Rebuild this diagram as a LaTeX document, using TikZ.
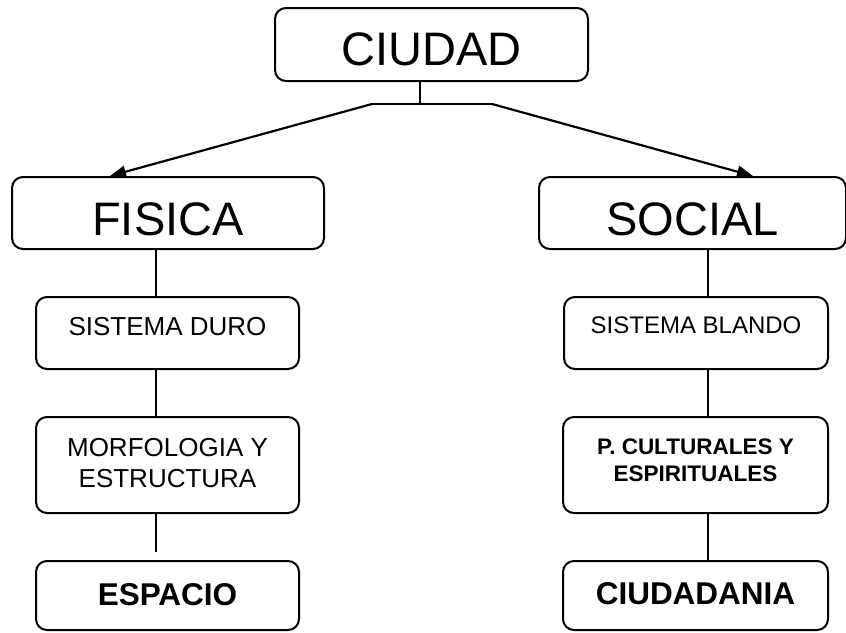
\documentclass[tikz,border=0pt]{standalone}
\usepackage{fontspec}
\setmainfont{Liberation Sans}
\usetikzlibrary{arrows.meta}
\begin{document}
\begin{tikzpicture}[x=1pt,y=-1pt,
  box/.style={draw=black, line width=2pt, rounded corners=11pt, inner sep=2pt, align=center},
  big/.style={font=\fontsize{47}{52}\selectfont},
  small/.style={font=\fontsize{26}{31}\selectfont},
  conn/.style={line width=2.2pt},
  arr/.style={line width=2.2pt, -{Triangle[length=16pt,width=12pt]}}
]
\useasboundingbox (0,0) rectangle (846,632);

\node[box, big, minimum width=313pt, minimum height=73pt, text height=41pt, text depth=0pt] (ciu) at (431.5,44.5) {CIUDAD};
\node[box, big, minimum width=312pt, minimum height=72pt, text height=44pt, text depth=0pt] (fis) at (168,213) {FISICA};
\node[box, big, minimum width=307pt, minimum height=72pt, text height=44pt, text depth=0pt] (soc) at (692.5,213) {SOCIAL};

\node[box, small, minimum width=263pt, minimum height=72pt, text height=20pt, text depth=16pt] (sd) at (167.5,333) {SISTEMA DURO};
\node[box, font=\fontsize{24}{29}\selectfont, minimum width=264pt, minimum height=72pt, text height=17pt, text depth=16pt] (sb) at (696,333) {SISTEMA BLANDO};

\node[box, small, minimum width=263pt, minimum height=96pt, text height=50pt, text depth=6pt] (mor) at (167.5,465) {MORFOLOGIA Y\\ESTRUCTURA};
\node[box, font=\fontsize{22.5}{27.5}\selectfont\bfseries, minimum width=265pt, minimum height=96pt, text height=50pt, text depth=16.6pt] (pc) at (695.5,465) {P. CULTURALES Y\\ESPIRITUALES};

\node[box, font=\fontsize{31.5}{36}\selectfont\bfseries, minimum width=263pt, minimum height=69pt, text height=23pt, text depth=4pt] (esp) at (167.5,595.5) {ESPACIO};
\node[box, font=\fontsize{31.5}{36}\selectfont\bfseries, minimum width=265pt, minimum height=69pt, text height=23pt, text depth=6pt] (cda) at (695.5,595.5) {CIUDADANIA};

\coordinate (jn) at (420,104);
\coordinate (jl) at (372,104);
\coordinate (jr) at (492,104);
\coordinate (mend) at (156,552);

\draw[conn] ([xshift=-11.5pt]ciu.south) -- (jn);
\draw[conn] (jl) -- (jr);
\draw[arr] (jl) -- ([xshift=-58pt]fis.north);
\draw[arr] (jr) -- ([xshift=60.5pt]soc.north);

\draw[conn] ([xshift=-12pt]fis.south) -- ([xshift=-11.5pt]sd.north);
\draw[conn] ([xshift=-11.5pt]sd.south) -- ([xshift=-11.5pt]mor.north);
\draw[conn] ([xshift=-11.5pt]mor.south) -- (mend);

\draw[conn] ([xshift=15.5pt]soc.south) -- ([xshift=12pt]sb.north);
\draw[conn] ([xshift=12pt]sb.south) -- ([xshift=12.5pt]pc.north);
\draw[conn] ([xshift=12.5pt]pc.south) -- ([xshift=12.5pt]cda.north);
\end{tikzpicture}
\end{document}
